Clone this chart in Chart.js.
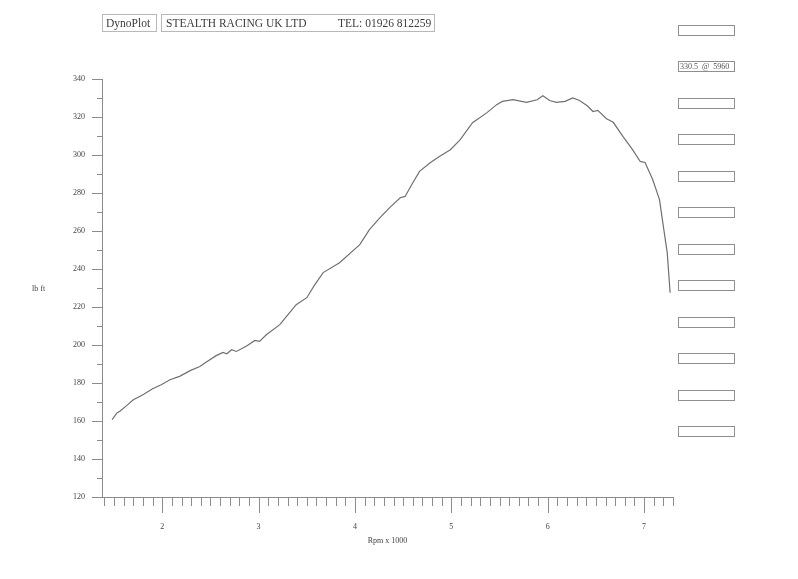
<!DOCTYPE html>
<html lang="en">
<head>
<meta charset="UTF-8">
<title>DynoPlot - Stealth Racing UK Ltd</title>
<script src="https://cdn.jsdelivr.net/npm/chart.js@4.4.0/dist/chart.umd.min.js"></script>
<style>
    body { margin: 0; background: #fff; font-family: 'Liberation Serif', 'Times New Roman', serif; }
    #wrap { position: relative; width: 798px; height: 579px; }
    #wrap canvas { position: absolute; left: 0; top: 0; }
    .hbox { position: absolute; top: 14px; height: 16px; line-height: 16px; border: 1px solid #b8b8b8; font-size: 11.5px; color: #3c3c3c; white-space: pre; }
    .rbox { position: absolute; left: 678px; width: 54px; height: 9px; border: 1px solid #8f8f8f; font-size: 8px; line-height: 9px; color: #555; white-space: pre; padding-left: 1px; box-sizing: content-box; }
    #ylab { position: absolute; left: 32px; top: 284px; font-size: 8px; color: #444; }
    #tel { position: absolute; left: 176px; }
</style>
<script>
    // torque curve
    const rpm = [1.48, 1.53, 1.56, 1.63, 1.70, 1.80, 1.90, 1.99, 2.08, 2.18, 2.29, 2.39, 2.47, 2.56, 2.63,
        2.67, 2.72, 2.77, 2.88, 2.96, 3.01, 3.08, 3.22, 3.29, 3.39, 3.50, 3.58, 3.67, 3.84, 4.05,
        4.15, 4.26, 4.36, 4.47, 4.52, 4.60, 4.67, 4.78, 4.88, 4.99, 5.09, 5.22, 5.37, 5.47, 5.53,
        5.64, 5.78, 5.89, 5.95, 6.02, 6.09, 6.18, 6.26, 6.33, 6.41, 6.47, 6.52, 6.61, 6.68, 6.78,
        6.88, 6.96, 7.01, 7.09, 7.16, 7.19, 7.24, 7.27];
    const torque = [160.7, 164.2, 165.1, 168.1, 171.2, 173.8, 177.0, 179.1, 181.7, 183.5, 186.5, 188.7, 191.4, 194.4, 196.1,
        195.4, 197.5, 196.6, 199.6, 202.4, 201.9, 205.4, 210.7, 215.1, 221.2, 224.9, 231.5, 238.1, 243.3, 252.8,
        260.7, 267.0, 272.3, 277.5, 278.2, 285.4, 291.4, 295.9, 299.3, 302.8, 308.0, 317.0, 322.3, 326.5, 328.2,
        329.1, 327.7, 329.1, 331.2, 328.7, 327.7, 328.2, 330.0, 328.7, 325.9, 322.9, 323.5, 319.1, 317.2, 309.8,
        302.8, 296.6, 296.1, 287.0, 276.5, 265.9, 248.6, 227.5];

    const xLabels = [2, 3, 4, 5, 6, 7];
    const yLabels = [120, 140, 160, 180, 200, 220, 240, 260, 280, 300, 320, 340];
    const peakText = '330.5  @  5960';
    const boxCount = 12;

    // short ticks every 0.1 / 10, long ones at the labels
    const tickMarks = {
        id: 'tickMarks',
        afterDraw(chart) {
            const ctx = chart.ctx, x = chart.scales.x, y = chart.scales.y;
            ctx.save();
            ctx.strokeStyle = '#8c8c8c';
            ctx.lineWidth = 1;
            ctx.beginPath();
            for (let i = 14; i <= 73; i++) {
                const px = Math.round(x.getPixelForValue(i / 10)) + 0.5;
                const len = i % 10 === 0 ? 16 : 9;
                ctx.moveTo(px, y.bottom);
                ctx.lineTo(px, y.bottom + len);
            }
            for (let v = 120; v <= 340; v += 10) {
                const py = Math.round(y.getPixelForValue(v)) + 0.5;
                const len = v % 20 === 0 ? 10 : 5;
                ctx.moveTo(x.left - len, py);
                ctx.lineTo(x.left, py);
            }
            ctx.stroke();
            ctx.restore();
        }
    };

    window.addEventListener('load', function () {
        const wrap = document.getElementById('wrap');
        for (let i = 0; i < boxCount; i++) {
            const b = document.createElement('div');
            b.className = 'rbox';
            b.style.top = (24.5 + i * 36.5) + 'px';
            if (i === 1) b.textContent = peakText;
            wrap.appendChild(b);
        }

        const ctx = document.getElementById('dyno').getContext('2d');
        new Chart(ctx, {
            type: 'line',
            data: {
                datasets: [{
                    label: 'lb ft',
                    data: rpm.map((r, i) => ({ x: r, y: torque[i] })),
                    borderColor: '#707070',
                    borderWidth: 1.2,
                    pointRadius: 0,
                    tension: 0,
                    fill: false
                }]
            },
            options: {
                responsive: false,
                animation: false,
                layout: { padding: { top: 79, right: 125, left: 0, bottom: 0 } },
                plugins: { legend: { display: false }, tooltip: { enabled: false } },
                scales: {
                    x: {
                        type: 'linear',
                        min: 1.375,
                        max: 7.3,
                        afterFit: s => { s.height = 82; },
                        afterBuildTicks: s => { s.ticks = xLabels.map(v => ({ value: v })); },
                        grid: { display: false, drawTicks: false },
                        border: { display: true, color: '#8c8c8c', width: 1 },
                        ticks: { padding: 25, color: '#444', font: { family: 'Liberation Serif', size: 8 } },
                        title: {
                            display: true, text: 'Rpm x 1000', color: '#444',
                            font: { family: 'Liberation Serif', size: 8 },
                            padding: { top: 0, bottom: 33 }
                        }
                    },
                    y: {
                        min: 120,
                        max: 340,
                        afterFit: s => { s.width = 102; },
                        afterBuildTicks: s => { s.ticks = yLabels.map(v => ({ value: v })); },
                        grid: { display: false, drawTicks: false },
                        border: { display: true, color: '#8c8c8c', width: 1 },
                        ticks: { padding: 17, color: '#444', font: { family: 'Liberation Serif', size: 8 } }
                    }
                }
            },
            plugins: [tickMarks]
        });
    });
</script>
</head>
<body>
<div id="wrap">
    <canvas id="dyno" width="798" height="579"></canvas>
    <div class="hbox" style="left:102px; width:50px; padding-left:3px;">DynoPlot</div>
    <div class="hbox" style="left:161px; width:268px; padding-left:4px;">STEALTH RACING UK LTD<span id="tel">TEL: 01926 812259</span></div>
    <div id="ylab">lb ft</div>
</div>
</body>
</html>
